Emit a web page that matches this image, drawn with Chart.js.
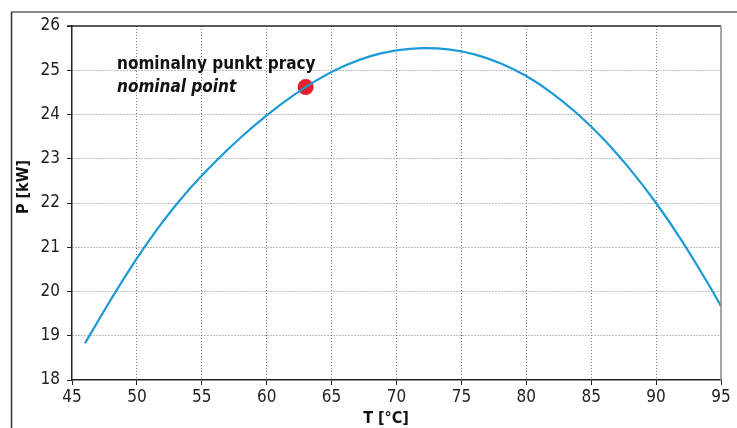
<!DOCTYPE html>
<html>
<head>
<script src="https://cdn.jsdelivr.net/npm/chart.js@4.4.1/dist/chart.umd.min.js"></script>
<style>
  html, body { margin: 0; padding: 0; background: #fff; }
  #wrap { width: 737px; height: 428px; position: relative; }
</style>
</head>
<body>
<div id="wrap"><canvas id="chart"></canvas></div>
<script>
// temperature T [°C] and power P [kW]
const temps  = [46, 48, 50, 52, 54, 56, 58, 60, 62, 64, 66, 68, 70, 72, 74, 76, 78, 80, 82, 84, 86, 88, 90, 92, 94, 95];
const powers = [18.83, 19.82, 20.75, 21.58, 22.3, 22.92, 23.48, 23.98, 24.42, 24.8, 25.1, 25.32, 25.45, 25.5, 25.47, 25.36, 25.16, 24.87, 24.48, 24.0, 23.43, 22.76, 22.0, 21.14, 20.18, 19.67];
const nominalT = [63];
const nominalP = [24.62];
const xTicks = [45, 50, 55, 60, 65, 70, 75, 80, 85, 90, 95];
const yTicks = [18, 19, 20, 21, 22, 23, 24, 25, 26];

const FONT = "'Liberation Sans Narrow', 'DejaVu Sans Condensed', sans-serif";

const frame = {
    id: 'frame',
    afterDraw(chart) {
        const c = chart.ctx, a = chart.chartArea;
        c.save();
        // outer frame of the figure
        c.strokeStyle = '#8a8a8a';
        c.lineWidth = 2;
        c.beginPath(); c.moveTo(11, 12); c.lineTo(737, 12); c.stroke();
        c.strokeStyle = '#333';
        c.lineWidth = 1.5;
        c.beginPath(); c.moveTo(11.5, 12); c.lineTo(11.5, 428); c.stroke();
        // plot box top + right
        c.strokeStyle = '#222';
        c.lineWidth = 1.5;
        c.beginPath(); c.moveTo(a.left - 5, a.top); c.lineTo(a.right, a.top); c.stroke();
        c.strokeStyle = '#888';
        c.beginPath(); c.moveTo(a.right, a.top); c.lineTo(a.right, a.bottom); c.stroke();

        // annotation
        c.fillStyle = '#111';
        c.textBaseline = 'alphabetic';
        c.textAlign = 'left';
        c.font = 'bold 17px ' + FONT;
        c.fillText('nominalny punkt pracy', 117, 69);
        c.font = 'italic bold 17px ' + FONT;
        c.fillText('nominal point', 117, 92);

        // axis titles
        c.font = 'bold 16px ' + FONT;
        c.textAlign = 'center';
        c.textBaseline = 'middle';
        c.fillText('T [°C]', 386, 419);
        c.translate(24, 187);
        c.rotate(-Math.PI / 2);
        c.fillText('P [kW]', 0, 0);
        c.restore();
    }
};

const gridColor = (ctx) => (ctx.index === 0 || ctx.index === ctx.chart.scales[ctx.scale.id].ticks.length - 1) ? 'rgba(0,0,0,0)' : '#7a7a7a';

new Chart(document.getElementById('chart'), {
    type: 'scatter',
    data: {
        datasets: [{
            data: temps.map((t, i) => ({ x: t, y: powers[i] })),
            showLine: true,
            borderColor: '#1b9ad6',
            borderWidth: 2.2,
            pointRadius: 0,
            tension: 0.4
        }, {
            data: nominalT.map((t, i) => ({ x: t, y: nominalP[i] })),
            pointRadius: 8,
            pointBackgroundColor: '#e5202b',
            pointBorderWidth: 0
        }]
    },
    options: {
        responsive: true,
        maintainAspectRatio: false,
        animation: false,
        layout: { padding: { top: 26, right: 16, left: 0, bottom: 0 } },
        plugins: { legend: { display: false }, tooltip: { enabled: false } },
        scales: {
            x: {
                type: 'linear',
                min: 45, max: 95,
                afterBuildTicks: (s) => { s.ticks = xTicks.map(v => ({ value: v })); },
                afterFit: (s) => { s.height = 48; },
                ticks: { color: '#222', font: { family: FONT, size: 17 }, padding: 2, maxRotation: 0 },
                grid: {
                    color: gridColor,
                    lineWidth: 1,
                    tickColor: '#222',
                    tickLength: 5,
                    tickBorderDash: []
                },
                border: { color: '#222', width: 1.5, dash: [1, 2] }
            },
            y: {
                min: 18, max: 26,
                afterBuildTicks: (s) => { s.ticks = yTicks.map(v => ({ value: v })); },
                afterFit: (s) => { s.width = 72; },
                ticks: { color: '#222', font: { family: FONT, size: 17 }, padding: 7 },
                grid: {
                    color: gridColor,
                    lineWidth: 1,
                    tickColor: '#222',
                    tickLength: 5,
                    tickBorderDash: []
                },
                border: { color: '#222', width: 1.5, dash: [1, 2] }
            }
        }
    },
    plugins: [frame]
});
</script>
</body>
</html>
